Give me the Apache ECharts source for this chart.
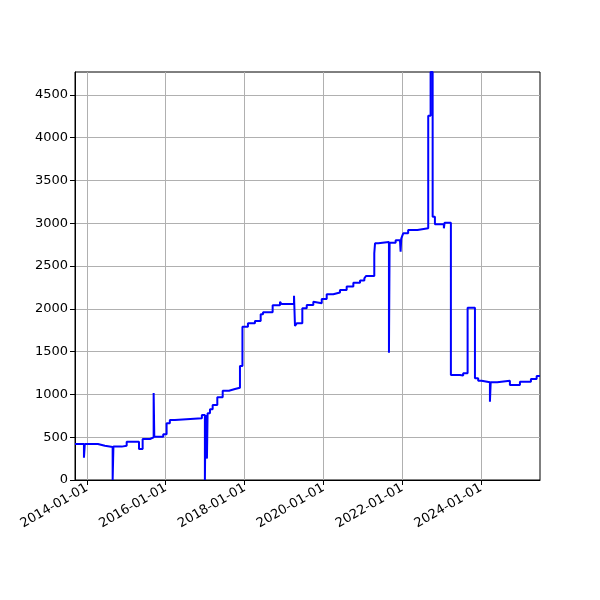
<!DOCTYPE html>
<html>
<head>
<meta charset="utf-8">
<script src="https://cdn.jsdelivr.net/npm/echarts@6/dist/echarts.min.js"></script>
<style>
  html, body { margin: 0; padding: 0; background: #fff; }
  #chart { width: 600px; height: 600px; }
</style>
</head>
<body>
<div id="chart"></div>
<script>
// fechas de cada cambio de valor (línea escalonada)
const dates = [
  '2013-09-12', '2013-12-04', '2013-12-12', '2014-04-12', '2014-06-16',
  '2014-08-27', '2014-09-03', '2014-11-19', '2015-01-04', '2015-04-28',
  '2015-06-01', '2015-08-08', '2015-09-11', '2015-09-17', '2015-12-09',
  '2016-01-09', '2016-02-08', '2016-03-26', '2016-12-01', '2016-12-29',
  '2017-01-04', '2017-01-17', '2017-01-23', '2017-02-14', '2017-03-11',
  '2017-04-23', '2017-06-12', '2017-08-09', '2017-10-04', '2017-11-19',
  '2017-12-12', '2018-02-01', '2018-04-07', '2018-05-30', '2018-06-21',
  '2018-09-18', '2018-11-25', '2018-12-09', '2019-03-14', '2019-04-04',
  '2019-04-13', '2019-04-29', '2019-06-20', '2019-07-31', '2019-09-30',
  '2019-10-16', '2019-12-17', '2020-02-01', '2020-04-02', '2020-06-03',
  '2020-08-04', '2020-10-05', '2020-12-06', '2021-01-15', '2021-01-30',
  '2021-04-17', '2021-04-24', '2021-05-24', '2021-08-31', '2021-09-06',
  '2021-11-01', '2021-12-11', '2021-12-17', '2021-12-23', '2022-01-10',
  '2022-02-25', '2022-05-22', '2022-08-30', '2022-09-21', '2022-10-10',
  '2022-10-31', '2023-01-22', '2023-01-29', '2023-03-28', '2023-06-20',
  '2023-07-20', '2023-08-30', '2023-11-06', '2023-12-06', '2024-01-07',
  '2024-03-24', '2024-03-31', '2024-05-30', '2024-09-25', '2024-12-27',
  '2025-04-08', '2025-05-31', '2025-07-01'
];

const values = [
  420, 260, 420, 400, 385,
  0, 390, 400, 447, 362,
  479, 498, 1015, 506, 534,
  662, 700, 720, 760, 0,
  760, 250, 779, 826, 876,
  966, 1043, 1063, 1078, 1332,
  1791, 1830, 1857, 1935, 1959,
  2041, 2083, 2056, 2060, 2153,
  1799, 1830, 2005, 2044, 2083,
  2064, 2114, 2169, 2190, 2220,
  2259, 2305, 2330, 2356, 2383,
  2648, 2765, 2780, 1487, 2772,
  2800, 2820, 2667, 2820, 2882,
  2920, 2940, 4256, 4766, 3076,
  2987, 2940, 3006, 1227, 1220,
  1246, 2013, 1188, 1160, 1141,
  915, 1141, 1160, 1110, 1149,
  1180, 1215, 1215
];

const xTicks = ['2014-01-01', '2016-01-01', '2018-01-01', '2020-01-01', '2022-01-01', '2024-01-01'];
const yTicks = [0, 500, 1000, 1500, 2000, 2500, 3000, 3500, 4000, 4500];

const toMs = (d) => new Date(d + 'T00:00:00Z').getTime();
const tickMs = xTicks.map(toMs);
const fontFamily = 'DejaVu Sans';

const chart = echarts.init(document.getElementById('chart'), null, { renderer: 'canvas' });

chart.setOption({
  backgroundColor: '#ffffff',
  animation: false,
  grid: {
    left: 75, top: 72, width: 465, height: 408,
    show: true, borderColor: '#000', borderWidth: 1, backgroundColor: 'transparent'
  },
  xAxis: {
    type: 'value',
    min: toMs(dates[0]),
    max: toMs(dates[dates.length - 1]),
    axisLine: { show: true, onZero: false, lineStyle: { color: '#000', width: 1 } },
    axisTick: { show: true, length: 5, lineStyle: { color: '#000' }, customValues: tickMs },
    axisLabel: {
      customValues: tickMs,
      rotate: 30,
      color: '#000',
      fontFamily: fontFamily,
      fontSize: 13,
      margin: 7,
      formatter: (v) => xTicks[tickMs.indexOf(v)] ?? ''
    },
    splitLine: { show: true, lineStyle: { color: '#b0b0b0', width: 1 } }
  },
  yAxis: {
    type: 'value',
    min: 0,
    max: 4766,
    interval: 500,
    axisLine: { show: true, lineStyle: { color: '#000', width: 1 } },
    axisTick: { show: true, length: 5, lineStyle: { color: '#000' }, customValues: yTicks },
    axisLabel: {
      customValues: yTicks,
      color: '#000',
      fontFamily: fontFamily,
      fontSize: 13,
      margin: 7,
      formatter: (v) => String(v)
    },
    splitLine: { show: true, lineStyle: { color: '#b0b0b0', width: 1 } }
  },
  series: [
    {
      type: 'line',
      step: 'end',
      showSymbol: false,
      data: dates.map((d, i) => [toMs(d), values[i]]),
      lineStyle: { color: '#0000ff', width: 2 },
      itemStyle: { color: '#0000ff' },
      clip: true
    }
  ]
});
</script>
</body>
</html>
